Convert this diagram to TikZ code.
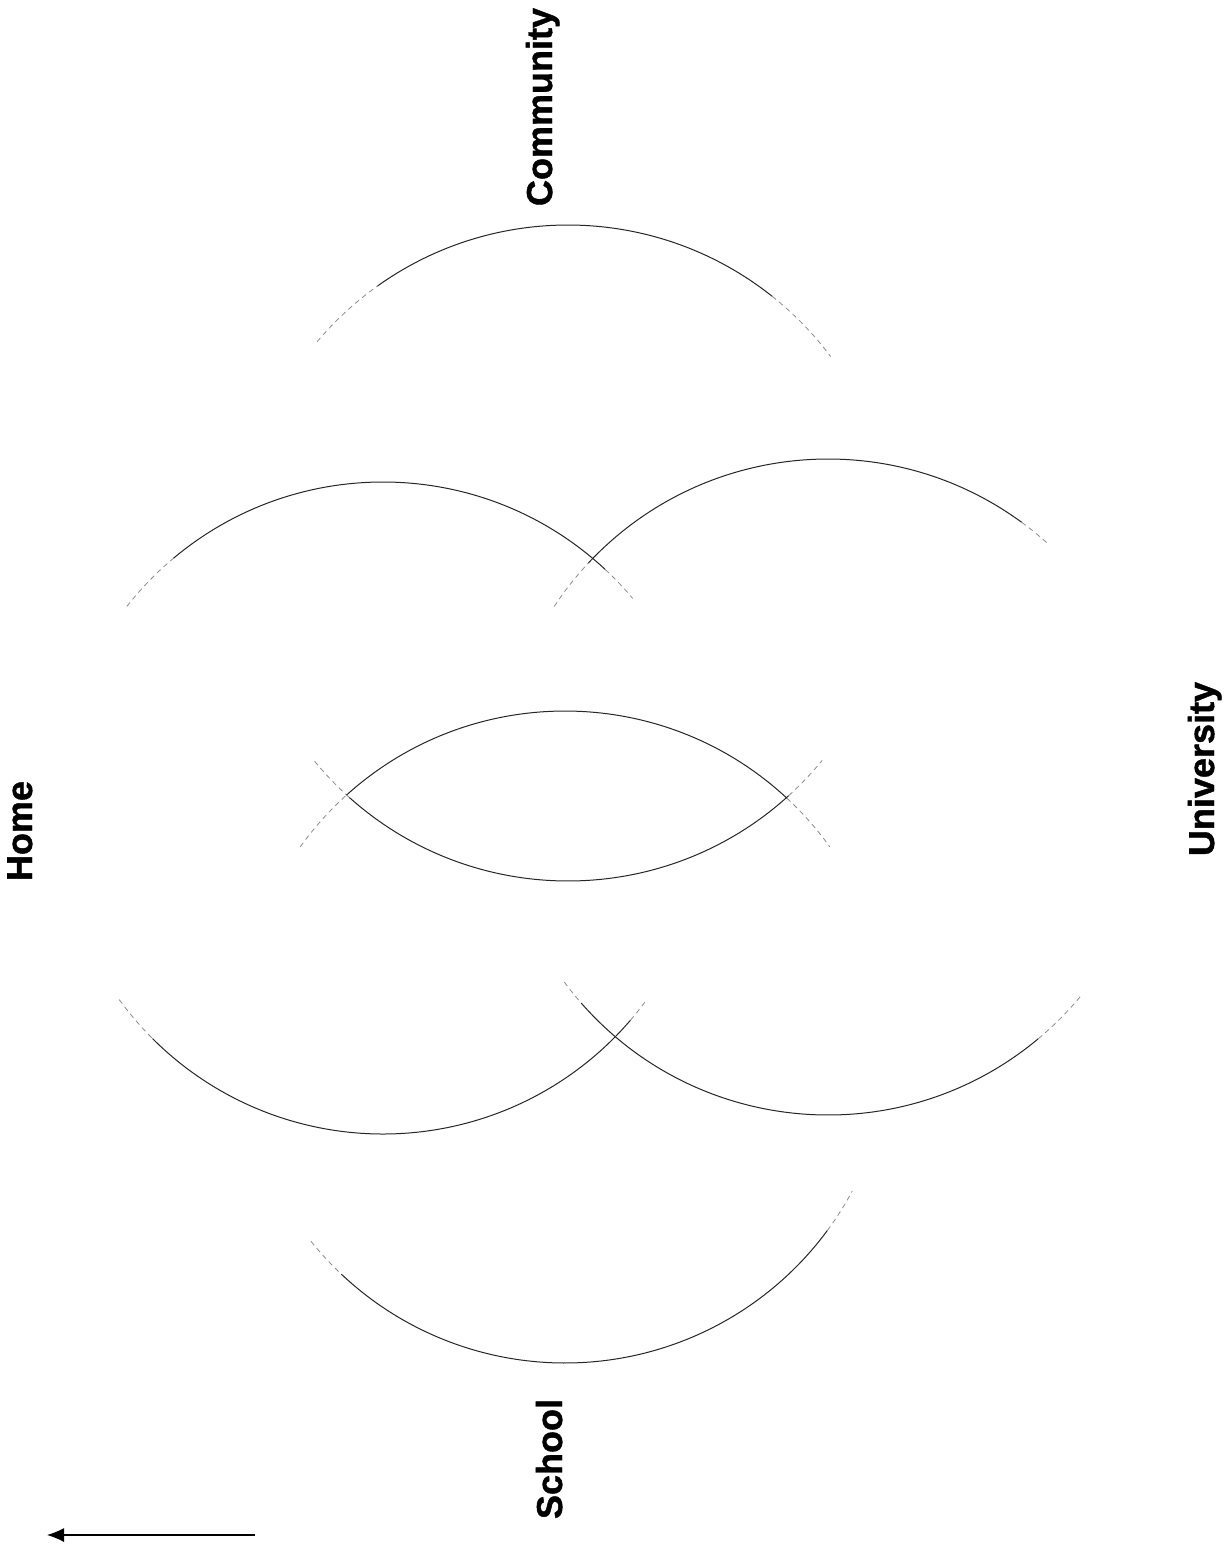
\documentclass[tikz,border=0pt]{standalone}
\usepackage{fontspec}
\setmainfont{Liberation Sans}
\newfontfamily\heavyfont{Liberation Sans}[BoldFeatures={FakeBold=1.2}]
\usetikzlibrary{arrows.meta}
\newcommand{\myarc}[5]{\draw[#1] (#2) ++(#3:#5) arc[start angle=#3, end angle=#4, radius=#5];}
\begin{document}
\begin{tikzpicture}[x=1pt,y=1pt,
  solidarc/.style={line width=1pt, draw=black!85},
  faintarc/.style={line width=0.8pt, draw=black!45, dash pattern=on 5pt off 4pt},
  lbl/.style={font=\heavyfont\bfseries\fontsize{36}{40}\selectfont, rotate=90, anchor=base, inner sep=0pt},
  arrowline/.style={line width=1.1pt, -{Latex[length=17pt,width=14pt]}}]
\fill[white] (0,0) rectangle (1225,-1548);
\useasboundingbox (0,0) rectangle (1225,-1548);

% circle centres
\coordinate (C1) at (568,-553);   % Community
\coordinate (C2) at (565,-1037);  % School
\coordinate (C3) at (383,-808);   % Home
\coordinate (C4) at (828,-787);   % University

% Community circle
\myarc{faintarc}{C1}{139.9}{125.5}{328pt}
\myarc{solidarc}{C1}{125.5}{51.5}{328pt}
\myarc{faintarc}{C1}{51.5}{36.8}{328pt}
\myarc{faintarc}{C1}{219.4}{228.2}{328pt}
\myarc{solidarc}{C1}{228.2}{312.3}{328pt}
\myarc{faintarc}{C1}{312.3}{320.8}{328pt}

% School circle
\myarc{faintarc}{C2}{144.3}{132.1}{326pt}
\myarc{solidarc}{C2}{132.1}{47.1}{326pt}
\myarc{faintarc}{C2}{47.1}{35.7}{326pt}
\myarc{faintarc}{C2}{218.8}{226.7}{326pt}
\myarc{solidarc}{C2}{226.7}{323.6}{326pt}
\myarc{faintarc}{C2}{323.6}{331.8}{326pt}

% Home circle
\myarc{faintarc}{C3}{141.8}{130}{326pt}
\myarc{solidarc}{C3}{130}{47}{326pt}
\myarc{faintarc}{C3}{47}{40}{326pt}
\myarc{faintarc}{C3}{216}{225}{326pt}
\myarc{solidarc}{C3}{225}{319.4}{326pt}
\myarc{faintarc}{C3}{319.4}{323.5}{326pt}

% University circle
\myarc{faintarc}{C4}{146.6}{136.9}{328pt}
\myarc{solidarc}{C4}{136.9}{53.8}{328pt}
\myarc{faintarc}{C4}{53.8}{47.7}{328pt}
\myarc{faintarc}{C4}{216.5}{221.2}{328pt}
\myarc{solidarc}{C4}{221.2}{309.9}{328pt}
\myarc{faintarc}{C4}{309.9}{320.7}{328pt}

% labels
\node[lbl] (community) at (552,-107) {Community};
\node[lbl] (home) at (32,-831) {Home};
\node[lbl] (university) at (1214,-769) {University};
\node[lbl] (school) at (562,-1459) {School};

% arrow
\coordinate (arrS) at (255,-1535);
\coordinate (arrE) at (47,-1535);
\draw[arrowline] (arrS) -- (arrE);
\end{tikzpicture}
\end{document}
